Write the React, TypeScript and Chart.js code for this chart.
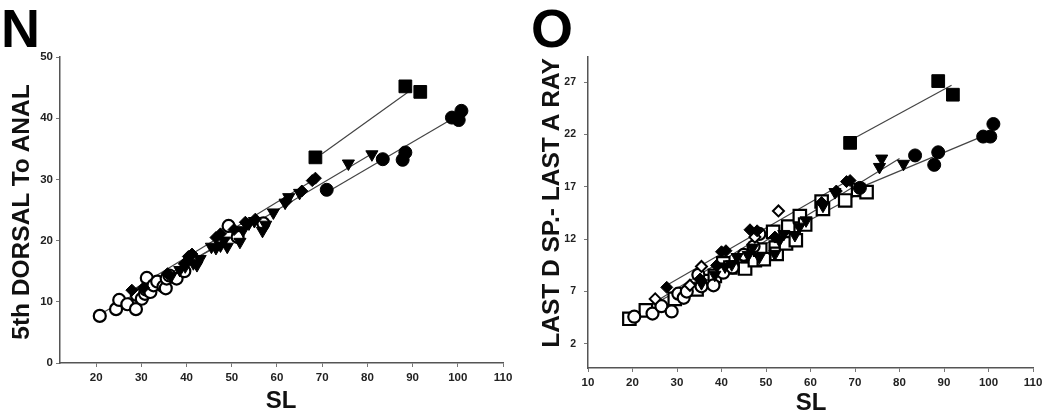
import React, { useEffect, useRef } from 'react';
import { Chart, registerables } from 'chart.js';

Chart.register(...registerables);

// ---------- Panel N : 5th DORSAL To ANAL vs SL ----------
const xTicksN = [20, 30, 40, 50, 60, 70, 80, 90, 100, 110];
const yTicksN = [0, 10, 20, 30, 40, 50];

const openCircleN = [
  [20.8, 7.7], [24.4, 8.8], [25.1, 10.3], [26.9, 9.6], [28.8, 8.8], [29.0, 11.1], [30.1, 10.5],
  [30.8, 11.3], [31.2, 13.9], [31.0, 12.0], [32.0, 11.6], [32.7, 12.7], [33.5, 13.3], [34.9, 12.5],
  [35.4, 12.2], [35.6, 13.8], [36.2, 14.3], [37.8, 13.8], [39.5, 15.0], [49.3, 22.4], [51.3, 20.6],
  [57.0, 22.8],
];
const filledDiamondN = [
  [27.9, 11.9], [30.5, 12.3], [35.8, 14.6], [39.5, 16.2], [40.4, 17.4], [41.2, 17.8], [46.5, 20.5],
  [47.5, 21.1], [50.5, 21.8], [53.0, 23.0], [55.2, 23.5], [62.0, 26.4], [65.5, 28.1], [67.8, 29.8],
  [68.5, 30.2],
];
const filledTriangleN = [
  [36.5, 14.1], [38.5, 15.2], [39.7, 15.8], [41.5, 16.3], [42.3, 16.0], [43.0, 17.0], [45.5, 19.0],
  [46.5, 18.8], [47.5, 19.2], [48.3, 20.0], [49.0, 19.0], [51.8, 19.8], [52.5, 21.7], [53.8, 22.8],
  [55.0, 23.2], [56.8, 21.6], [57.5, 22.6], [59.2, 24.6], [61.8, 26.2], [62.6, 27.1], [65.0, 27.8],
  [75.8, 32.6], [81.0, 34.1],
];
const filledCircleN = [[71.0, 28.3], [83.4, 33.3], [87.8, 33.2], [88.4, 34.4], [98.7, 40.1], [100.2, 39.7], [100.8, 41.2]];
const filledSquareN = [[68.5, 33.6], [88.4, 45.2], [91.7, 44.3]];

const fitOpenCircleN = [[21.0, 8.0], [51.0, 20.9]];
const fitDiamondN = [[28.0, 11.9], [68.5, 30.1]];
const fitTriangleN = [[37.0, 14.9], [81.0, 34.2]];
const fitCircleN = [[72.0, 28.3], [99.0, 40.0]];
const fitSquareN = [[70.0, 34.2], [89.8, 44.7]];

// ---------- Panel O : LAST D SP.- LAST A RAY vs SL ----------
const xTicksO = [10, 20, 30, 40, 50, 60, 70, 80, 90, 100, 110];
const yTicksO = [2, 7, 12, 17, 22, 27];

const openSquareO = [
  [19.3, 4.4], [23.0, 5.2], [29.5, 6.3], [34.4, 7.2], [36.0, 8.0], [38.5, 8.5], [40.4, 9.7],
  [42.0, 9.3], [45.3, 9.2], [46.0, 10.4], [47.5, 10.0], [48.7, 11.0], [49.5, 10.1], [51.6, 12.7],
  [52.2, 11.2], [52.4, 10.6], [54.5, 11.6], [55.0, 13.2], [56.7, 11.9], [57.6, 14.2], [58.8, 13.4],
  [62.5, 15.6], [62.8, 14.9], [67.8, 15.7], [70.7, 16.7], [72.6, 16.5],
];
const openCircleO = [
  [20.4, 4.6], [24.5, 4.9], [26.5, 5.6], [28.8, 5.1], [30.3, 6.8], [31.5, 6.4], [32.2, 7.0],
  [34.8, 8.6], [35.5, 7.5], [38.2, 7.6], [40.4, 8.8], [42.5, 9.3], [45.0, 10.5], [47.2, 11.3],
  [48.5, 12.5],
];
const openDiamondO = [[25.1, 6.3], [32.9, 7.6], [35.5, 9.4], [47.5, 12.2], [52.8, 14.7]];
const filledDiamondO = [
  [27.7, 7.4], [35.2, 8.2], [38.9, 9.5], [40.0, 10.8], [41.0, 10.9], [46.4, 12.9], [48.0, 12.8],
  [52.0, 12.2], [62.5, 15.5], [65.8, 16.6], [68.1, 17.5], [68.9, 17.6],
];
const filledTriangleO = [
  [35.5, 7.8], [38.5, 8.6], [40.8, 9.4], [42.3, 9.6], [43.5, 10.3], [46.0, 10.5], [47.0, 11.2],
  [48.5, 10.3], [52.0, 10.6], [53.0, 11.9], [54.0, 12.5], [56.5, 12.4], [57.5, 13.2], [59.0, 13.8],
  [62.8, 15.2], [65.5, 16.5], [75.5, 18.9], [76.0, 19.7], [80.9, 19.2],
];
const filledCircleO = [[71.1, 16.9], [83.5, 20.0], [87.8, 19.1], [88.7, 20.3], [98.8, 21.8], [100.4, 21.8], [101.1, 23.0]];
const filledSquareO = [[68.9, 21.2], [88.7, 27.1], [92.0, 25.8]];

const fitOpenSquareO = [[19.5, 4.6], [72.0, 16.6]];
const fitOpenCircleO = [[20.5, 4.8], [48.0, 12.0]];
const fitDiamondO = [[27.7, 7.6], [68.5, 17.6]];
const fitTriangleO = [[36.0, 8.2], [80.0, 19.7]];
const fitCircleO = [[71.5, 17.0], [98.5, 21.8]];
const fitSquareO = [[69.6, 21.6], [91.7, 26.7]];

// ---------- styling helpers ----------
const FONT = '"Liberation Sans", Arial, Helvetica, sans-serif';

type Marker = { style: string; radius: number; fill: boolean; rotation?: number; bw?: number };
const MK: Record<string, Marker> = {
  openCircle: { style: 'circle', radius: 6, fill: false, bw: 2.2 },
  openSquare: { style: 'rect', radius: 8.8, fill: false, bw: 2.2 },
  openDiamond: { style: 'rectRot', radius: 5.5, fill: false, bw: 2 },
  filledDiamond: { style: 'rectRot', radius: 6, fill: true },
  filledTriangle: { style: 'triangle', radius: 7, fill: true, rotation: 180 },
  filledCircle: { style: 'circle', radius: 6.5, fill: true },
  filledSquare: { style: 'rect', radius: 9, fill: true },
};

const toXY = (arr: number[][]) => arr.map(([x, y]) => ({ x, y }));

function markerSet(data: number[][], m: Marker) {
  return {
    type: 'scatter' as const,
    data: toXY(data),
    pointStyle: m.style,
    pointRadius: m.radius,
    pointRotation: m.rotation || 0,
    pointBackgroundColor: m.fill ? '#000' : '#fff',
    pointBorderColor: '#000',
    pointBorderWidth: m.fill ? 1 : m.bw,
    showLine: false,
  };
}

function fitSet(data: number[][]) {
  return {
    type: 'scatter' as const,
    data: toXY(data),
    showLine: true,
    borderColor: '#444',
    borderWidth: 1.2,
    pointRadius: 0,
    fill: false,
  };
}

function axis(min: number, max: number, ticks: number[], pos: 'x' | 'y', fixed: number, labelPad: number, fontSize: number) {
  return {
    type: 'linear' as const,
    position: pos === 'x' ? 'bottom' : 'left',
    min,
    max,
    afterBuildTicks: (scale: any) => {
      scale.ticks = ticks.map((v) => ({ value: v }));
    },
    afterFit: (scale: any) => {
      if (pos === 'x') scale.height = fixed;
      else scale.width = fixed;
    },
    grid: { display: true, drawOnChartArea: false, drawTicks: true, tickLength: 4, color: '#777', lineWidth: 1 },
    border: { display: true, color: '#555', width: 1.5 },
    ticks: {
      autoSkip: false,
      maxRotation: 0,
      padding: labelPad,
      color: '#222',
      font: { family: FONT, size: fontSize, weight: 'bold' as const },
    },
    title: { display: false },
  };
}

function ChartCanvas(props: { width: number; height: number; left: number; config: any }) {
  const ref = useRef<HTMLCanvasElement | null>(null);
  useEffect(() => {
    if (!ref.current) return;
    const chart = new Chart(ref.current, props.config);
    return () => chart.destroy();
  }, []);
  return (
    <canvas
      ref={ref}
      width={props.width}
      height={props.height}
      style={{ position: 'absolute', left: props.left, top: 0, width: props.width, height: props.height }}
    />
  );
}

function buildConfig(datasets: any[], xAx: any, yAx: any, padding: any) {
  return {
    type: 'scatter',
    data: { datasets },
    options: {
      responsive: false,
      animation: false,
      events: [],
      layout: { padding },
      plugins: { legend: { display: false }, tooltip: { enabled: false }, title: { display: false } },
      scales: { x: xAx, y: yAx },
    },
  };
}

const configN = buildConfig(
  [
    markerSet(filledSquareN, MK.filledSquare),
    markerSet(filledCircleN, MK.filledCircle),
    markerSet(filledTriangleN, MK.filledTriangle),
    markerSet(filledDiamondN, MK.filledDiamond),
    markerSet(openCircleN, MK.openCircle),
    fitSet(fitSquareN),
    fitSet(fitCircleN),
    fitSet(fitTriangleN),
    fitSet(fitDiamondN),
    fitSet(fitOpenCircleN),
  ],
  axis(12, 110, xTicksN, 'x', 25, 4, 11.5),
  axis(0, 50, yTicksN, 'y', 60, 3, 11.5),
  { left: 0, right: 27, top: 57, bottom: 28 }
);

const configO = buildConfig(
  [
    markerSet(filledSquareO, MK.filledSquare),
    markerSet(filledCircleO, MK.filledCircle),
    markerSet(filledTriangleO, MK.filledTriangle),
    markerSet(filledDiamondO, MK.filledDiamond),
    markerSet(openDiamondO, MK.openDiamond),
    markerSet(openCircleO, MK.openCircle),
    markerSet(openSquareO, MK.openSquare),
    fitSet(fitSquareO),
    fitSet(fitCircleO),
    fitSet(fitTriangleO),
    fitSet(fitDiamondO),
    fitSet(fitOpenCircleO),
    fitSet(fitOpenSquareO),
  ],
  axis(10, 110, xTicksO, 'x', 25, 4, 11.5),
  axis(-0.3, 29.4, yTicksO, 'y', 58, 8, 10.5),
  { left: 0, right: 28, top: 57, bottom: 23 }
);

const textBase: React.CSSProperties = {
  position: 'absolute',
  fontFamily: FONT,
  fontWeight: 'bold',
  color: '#111',
  whiteSpace: 'nowrap',
  lineHeight: 1,
};

function Rotated(props: { text: string; cx: number; cy: number; size: number }) {
  return (
    <div
      style={{
        ...textBase,
        left: props.cx,
        top: props.cy,
        fontSize: props.size,
        transform: 'translate(-50%, -50%) rotate(-90deg)',
      }}
    >
      {props.text}
    </div>
  );
}

function Centered(props: { text: string; cx: number; cy: number; size: number }) {
  return (
    <div style={{ ...textBase, left: props.cx, top: props.cy, fontSize: props.size, transform: 'translate(-50%, -50%)' }}>
      {props.text}
    </div>
  );
}

export default function App() {
  return (
    <div style={{ position: 'absolute', left: 0, top: 0, width: 1061, height: 416, background: '#fff', overflow: 'hidden' }}>
      <ChartCanvas width={530} height={416} left={0} config={configN} />
      <ChartCanvas width={531} height={416} left={530} config={configO} />
      <div style={{ ...textBase, left: 1, top: 1, fontSize: 54, color: '#000' }}>N</div>
      <div style={{ ...textBase, left: 531, top: 1, fontSize: 54, color: '#000' }}>O</div>
      <Rotated text="5th DORSAL To ANAL" cx={21} cy={212} size={24.5} />
      <Rotated text="LAST D SP.- LAST A RAY" cx={551} cy={203} size={24.5} />
      <Centered text="SL" cx={281} cy={400} size={24} />
      <Centered text="SL" cx={811} cy={402} size={24} />
    </div>
  );
}
